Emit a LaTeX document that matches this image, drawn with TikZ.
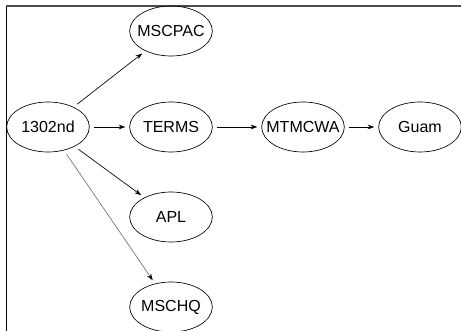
\documentclass[tikz,border=0pt]{standalone}
\usepackage{fontspec}
\setmainfont{Liberation Sans}
\usepackage{tikz}
\usetikzlibrary{shapes.geometric,arrows.meta}
\tikzstyle{station}=[ellipse, draw, line width=0.5pt, inner xsep=-6pt, inner ysep=0pt, minimum width=62pt, minimum height=37.5pt, font=\fontsize{12}{14}\selectfont]
\newcommand{\station}{\node[station]}

\begin{document}
\begin{tikzpicture}[x=0.75pt, y=-0.75pt, >={Stealth[length=5pt,width=3.5pt]}]
            \useasboundingbox (0,0) rectangle (461,331);
            \draw[line width=0.6pt] (6,331) -- (6,6);
            \draw[line width=0.8pt, black!70] (6,6) -- (461,6);

            \station (n1302) at (48,127) {1302nd};
            \station (mscpac) at (171,31) {MSCPAC};
            \station (terms) at (171,127) {TERMS};
            \station (mtmcwa) at (303,127) {MTMCWA};
            \station (guam) at (420,127) {Guam};
            \station (apl) at (171,217) {APL};
            \station (mschq) at (171,307) {MSCHQ};

            \path[->, line width=0.5pt, shorten <=3.5pt, shorten >=3pt]
            (n1302) edge (mscpac)
            (n1302) edge (terms)
            (terms) edge (mtmcwa)
            (mtmcwa) edge (guam)
            (n1302) edge (apl)
            (n1302) edge[black!55, -{Stealth[length=5pt,width=3.5pt,black]}] (mschq)
            ;
        \end{tikzpicture}
\end{document}
